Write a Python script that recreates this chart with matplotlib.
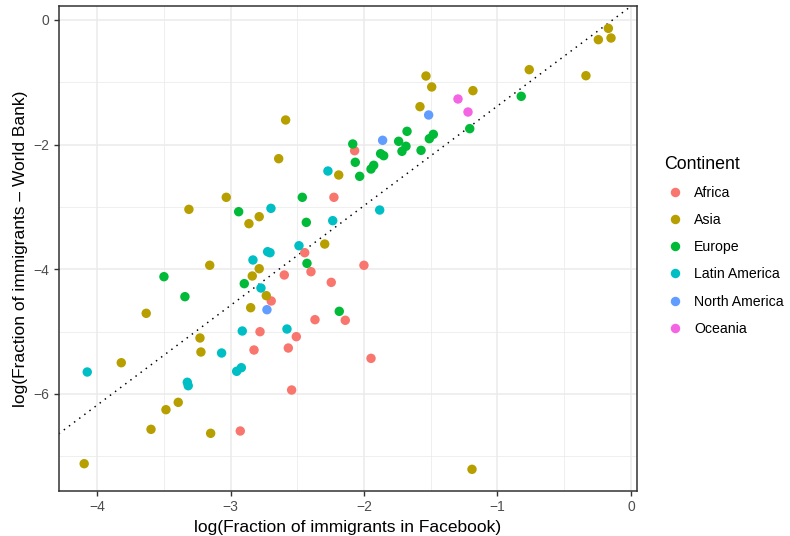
import matplotlib
matplotlib.use("Agg")
import matplotlib.pyplot as plt
from matplotlib.lines import Line2D

plt.rcParams['font.family'] = ['Liberation Sans', 'DejaVu Sans']

continents = ["Africa", "Asia", "Europe", "Latin America", "North America", "Oceania"]
colors = ["#F8766D", "#B79F00", "#00BA38", "#00BFC4", "#619CFF", "#F564E3"]

africa_x = [-2.226, -2.445, -2.398, -2.598, -2.246, -2.696, -2.368, -2.141, -2.780,
            -2.508, -2.825, -2.568, -2.543, -2.928, -2.001, -1.948, -2.071]
africa_y = [-2.846, -3.735, -4.040, -4.093, -4.211, -4.510, -4.810, -4.820, -5.003,
            -5.083, -5.297, -5.265, -5.939, -6.597, -3.937, -5.431, -2.098]

asia_x = [-2.588, -2.640, -2.190, -3.033, -3.313, -2.786, -2.863, -2.295, -3.157,
          -2.786, -2.838, -2.733, -2.850, -3.633, -3.230, -3.223, -3.820, -3.393,
          -3.485, -3.597, -3.150, -4.098, -1.191, -0.169, -0.244, -0.149, -0.337,
          -0.762, -1.536, -1.493, -1.184, -1.581]
asia_y = [-1.605, -2.226, -2.488, -2.846, -3.039, -3.157, -3.269, -3.596, -3.937,
          -3.992, -4.109, -4.425, -4.618, -4.708, -5.104, -5.329, -5.501, -6.137,
          -6.255, -6.570, -6.634, -7.122, -7.212, -0.134, -0.316, -0.289, -0.894,
          -0.797, -0.899, -1.075, -1.134, -1.391]

europe_x = [-2.463, -2.940, -2.433, -2.428, -3.500, -2.898, -3.343, -2.186, -0.822,
            -1.208, -1.678, -1.481, -1.511, -1.741, -2.085, -1.686, -1.716, -1.573,
            -1.876, -1.853, -2.066, -1.928, -1.948, -2.033]
europe_y = [-2.846, -3.077, -3.248, -3.906, -4.120, -4.232, -4.441, -4.676, -1.225,
            -1.744, -1.787, -1.835, -1.905, -1.947, -1.990, -2.027, -2.108, -2.092,
            -2.146, -2.178, -2.284, -2.332, -2.392, -2.509]

latin_x = [-2.271, -2.698, -2.235, -2.488, -2.723, -2.705, -2.833, -2.773, -2.913,
           -2.578, -3.068, -4.075, -2.955, -2.920, -3.325, -3.318, -1.883]
latin_y = [-2.424, -3.023, -3.221, -3.623, -3.719, -3.735, -3.852, -4.302, -4.992,
           -4.960, -5.345, -5.650, -5.639, -5.581, -5.815, -5.870, -3.050]

namerica_x = [-2.728, -1.516, -1.861]
namerica_y = [-4.650, -1.525, -1.931]

oceania_x = [-1.296, -1.221]
oceania_y = [-1.268, -1.477]

line_intercept = 0.22
line_slope = 1.60

series = [(africa_x, africa_y), (asia_x, asia_y), (europe_x, europe_y),
          (latin_x, latin_y), (namerica_x, namerica_y), (oceania_x, oceania_y)]

fig = plt.figure(figsize=(7.9, 5.36), dpi=100)
ax = fig.add_axes([58.7 / 790, 1 - 491 / 536, 578 / 790, 485.3 / 536])

ax.set_xlim(-4.289, 0.0435)
ax.set_ylim(-7.56, 0.2295)

# grid
for v in [-3.5, -2.5, -1.5, -0.5]:
    ax.axvline(v, color="#EBEBEB", lw=0.55, zorder=0)
for v in [-7, -5, -3, -1]:
    ax.axhline(v, color="#EBEBEB", lw=0.55, zorder=0)
for v in [-4, -3, -2, -1, 0]:
    ax.axvline(v, color="#EBEBEB", lw=1.1, zorder=0)
for v in [0, -2, -4, -6]:
    ax.axhline(v, color="#EBEBEB", lw=1.1, zorder=0)

ax.axline((0, line_intercept), slope=line_slope, color="black", lw=1.07,
          linestyle=(0, (1, 3.3)), zorder=1)

for (xs, ys), c in zip(series, colors):
    ax.scatter(xs, ys, s=46, color=c, edgecolors="none", zorder=3)

ax.set_xticks([-4, -3, -2, -1, 0])
ax.set_xticklabels(["\u22124", "\u22123", "\u22122", "\u22121", "0"])
ax.set_yticks([0, -2, -4, -6])
ax.set_yticklabels(["0", "\u22122", "\u22124", "\u22126"])
ax.tick_params(axis="both", colors="#333333", length=3.8, width=1.0,
               labelsize=10, labelcolor="#4D4D4D", pad=3)

for sp in ax.spines.values():
    sp.set_color("#333333")
    sp.set_linewidth(1.1)

ax.set_xlabel("log(Fraction of immigrants in Facebook)", fontsize=12.5, labelpad=4)
ax.set_ylabel("log(Fraction of immigrants \u2013 World Bank)", fontsize=12.5, labelpad=4)

handles = [Line2D([0], [0], marker="o", linestyle="none", markersize=6.8,
                  markerfacecolor=c, markeredgecolor="none") for c in colors]
leg = fig.legend(handles, continents, title="Continent", loc="upper left",
                 bbox_to_anchor=(658 / 790, 1 - 150 / 536), frameon=False,
                 fontsize=10.2, title_fontsize=12.8, handletextpad=0.55,
                 labelspacing=0.93, handlelength=1.6, borderaxespad=0)
leg._legend_box.align = "left"

fig.savefig("out.png", dpi=100)
